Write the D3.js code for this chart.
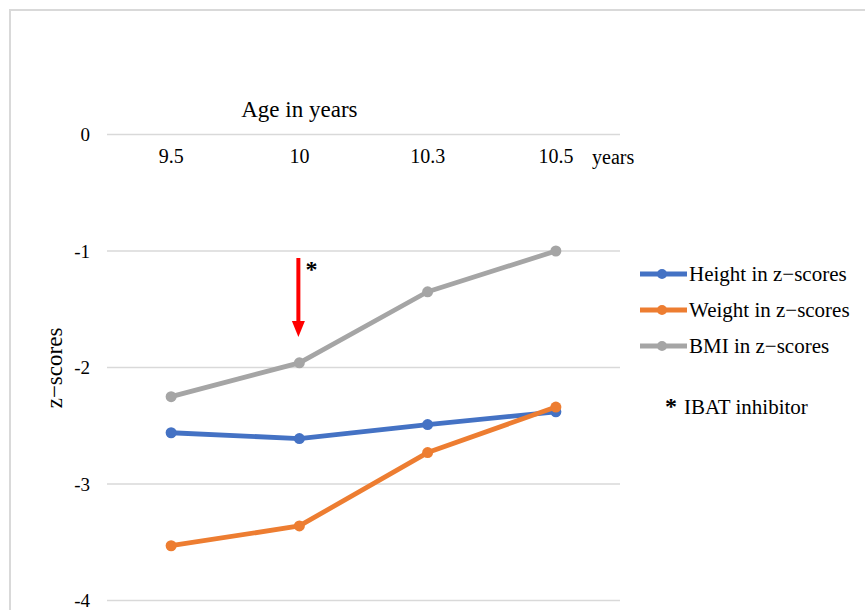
<!DOCTYPE html>
<html>
<head>
<meta charset="utf-8">
<script src="https://cdn.jsdelivr.net/npm/d3@7/dist/d3.min.js"></script>
<style>
  html, body { margin: 0; padding: 0; background: #fff; }
  svg text { font-family: "Liberation Serif", "Times New Roman", serif; fill: #000; }
</style>
</head>
<body>
<svg id="chart" width="865" height="610"></svg>
<script>
// Age at each visit (years)
const ages = ["9.5", "10", "10.3", "10.5"];
// z-scores per visit
const heightZ = [-2.56, -2.61, -2.49, -2.38];
const weightZ = [-3.53, -3.36, -2.73, -2.34];
const bmiZ = [-2.25, -1.96, -1.35, -1.00];
const yTicks = [0, -1, -2, -3, -4];
const seriesNames = ["Height in z\u2212scores", "Weight in z\u2212scores", "BMI in z\u2212scores"];
const seriesColors = ["#4472C4", "#ED7D31", "#A5A5A5"];
const treatmentAge = "10";

const series = [heightZ, weightZ, bmiZ].map((vals, i) => ({
  name: seriesNames[i], color: seriesColors[i],
  points: ages.map((a, j) => ({ age: a, z: vals[j] }))
}));

const svg = d3.select("#chart");

// outer frame
svg.append("rect")
  .attr("x", 10).attr("y", 10).attr("width", 870).attr("height", 620)
  .attr("fill", "none").attr("stroke", "#d9d9d9").attr("stroke-width", 2);

const x = d3.scaleBand().domain(ages).range([107, 620]);
const y = d3.scaleLinear().domain([-4, 0]).range([600.5, 134.5]);

// horizontal gridlines
svg.append("g").selectAll("line").data(yTicks).join("line")
  .attr("x1", x.range()[0]).attr("x2", x.range()[1])
  .attr("y1", d => y(d)).attr("y2", d => y(d))
  .attr("stroke", "#d9d9d9").attr("stroke-width", 1.5);

// y axis tick labels (plain hyphen minus)
const yAxis = d3.axisLeft(y).tickValues(yTicks).tickSize(0).tickPadding(0)
  .tickFormat(d => String(d));
const gy = svg.append("g").attr("transform", "translate(90,0)").call(yAxis);
gy.select(".domain").remove();
gy.selectAll("text").attr("font-size", 19).attr("font-family", "Liberation Serif");

// category labels sitting under the zero line
const xAxis = d3.axisBottom(x).tickSize(0).tickPadding(0);
const gx = svg.append("g").attr("transform", `translate(0,${y(0)})`).call(xAxis);
gx.select(".domain").remove();
gx.selectAll("text").attr("dy", null).attr("y", 28)
  .attr("font-size", 20).attr("font-family", "Liberation Serif");

svg.append("text").attr("x", 592).attr("y", 164).attr("font-size", 20).text("years");

svg.append("text").attr("x", x("10") + x.bandwidth() / 2).attr("y", 117)
  .attr("text-anchor", "middle").attr("font-size", 23).text("Age in years");

svg.append("text")
  .attr("transform", "translate(62,368) rotate(-90)")
  .attr("text-anchor", "middle").attr("font-size", 23).text("z\u2212scores");

// series lines and markers
const line = d3.line().x(d => x(d.age) + x.bandwidth() / 2).y(d => y(d.z));
const gs = svg.append("g").selectAll("g").data(series).join("g");
gs.append("path")
  .attr("d", d => line(d.points))
  .attr("fill", "none").attr("stroke", d => d.color)
  .attr("stroke-width", 4.8).attr("stroke-linejoin", "round");
gs.selectAll("circle").data(d => d.points.map(p => ({ ...p, color: d.color }))).join("circle")
  .attr("cx", d => x(d.age) + x.bandwidth() / 2).attr("cy", d => y(d.z))
  .attr("r", 5.5).attr("fill", d => d.color);

// treatment start arrow
const ax = x(treatmentAge) + x.bandwidth() / 2 - 1;
svg.append("line").attr("x1", ax).attr("x2", ax).attr("y1", 258).attr("y2", 322)
  .attr("stroke", "#ff0000").attr("stroke-width", 4);
svg.append("path")
  .attr("d", `M${ax - 6.5},321 L${ax + 6.5},321 L${ax},337 Z`).attr("fill", "#ff0000");
svg.append("text").attr("x", ax + 7).attr("y", 277).attr("font-size", 24)
  .attr("font-weight", "bold").attr("font-family", "DejaVu Sans").text("*");

// legend
const legend = svg.append("g").selectAll("g").data(series).join("g")
  .attr("transform", (d, i) => `translate(640,${274 + i * 36})`);
legend.append("line").attr("x1", 0).attr("x2", 47)
  .attr("stroke", d => d.color).attr("stroke-width", 4.8);
legend.append("circle").attr("cx", 22).attr("r", 5).attr("fill", d => d.color);
legend.append("text").attr("x", 49).attr("y", 7).attr("font-size", 21).text(d => d.name);

svg.append("text").attr("x", 665).attr("y", 414).attr("font-size", 24)
  .attr("font-weight", "bold").attr("font-family", "DejaVu Sans").text("*");
svg.append("text").attr("x", 684).attr("y", 414).attr("font-size", 21).text("IBAT inhibitor");
</script>
</body>
</html>
